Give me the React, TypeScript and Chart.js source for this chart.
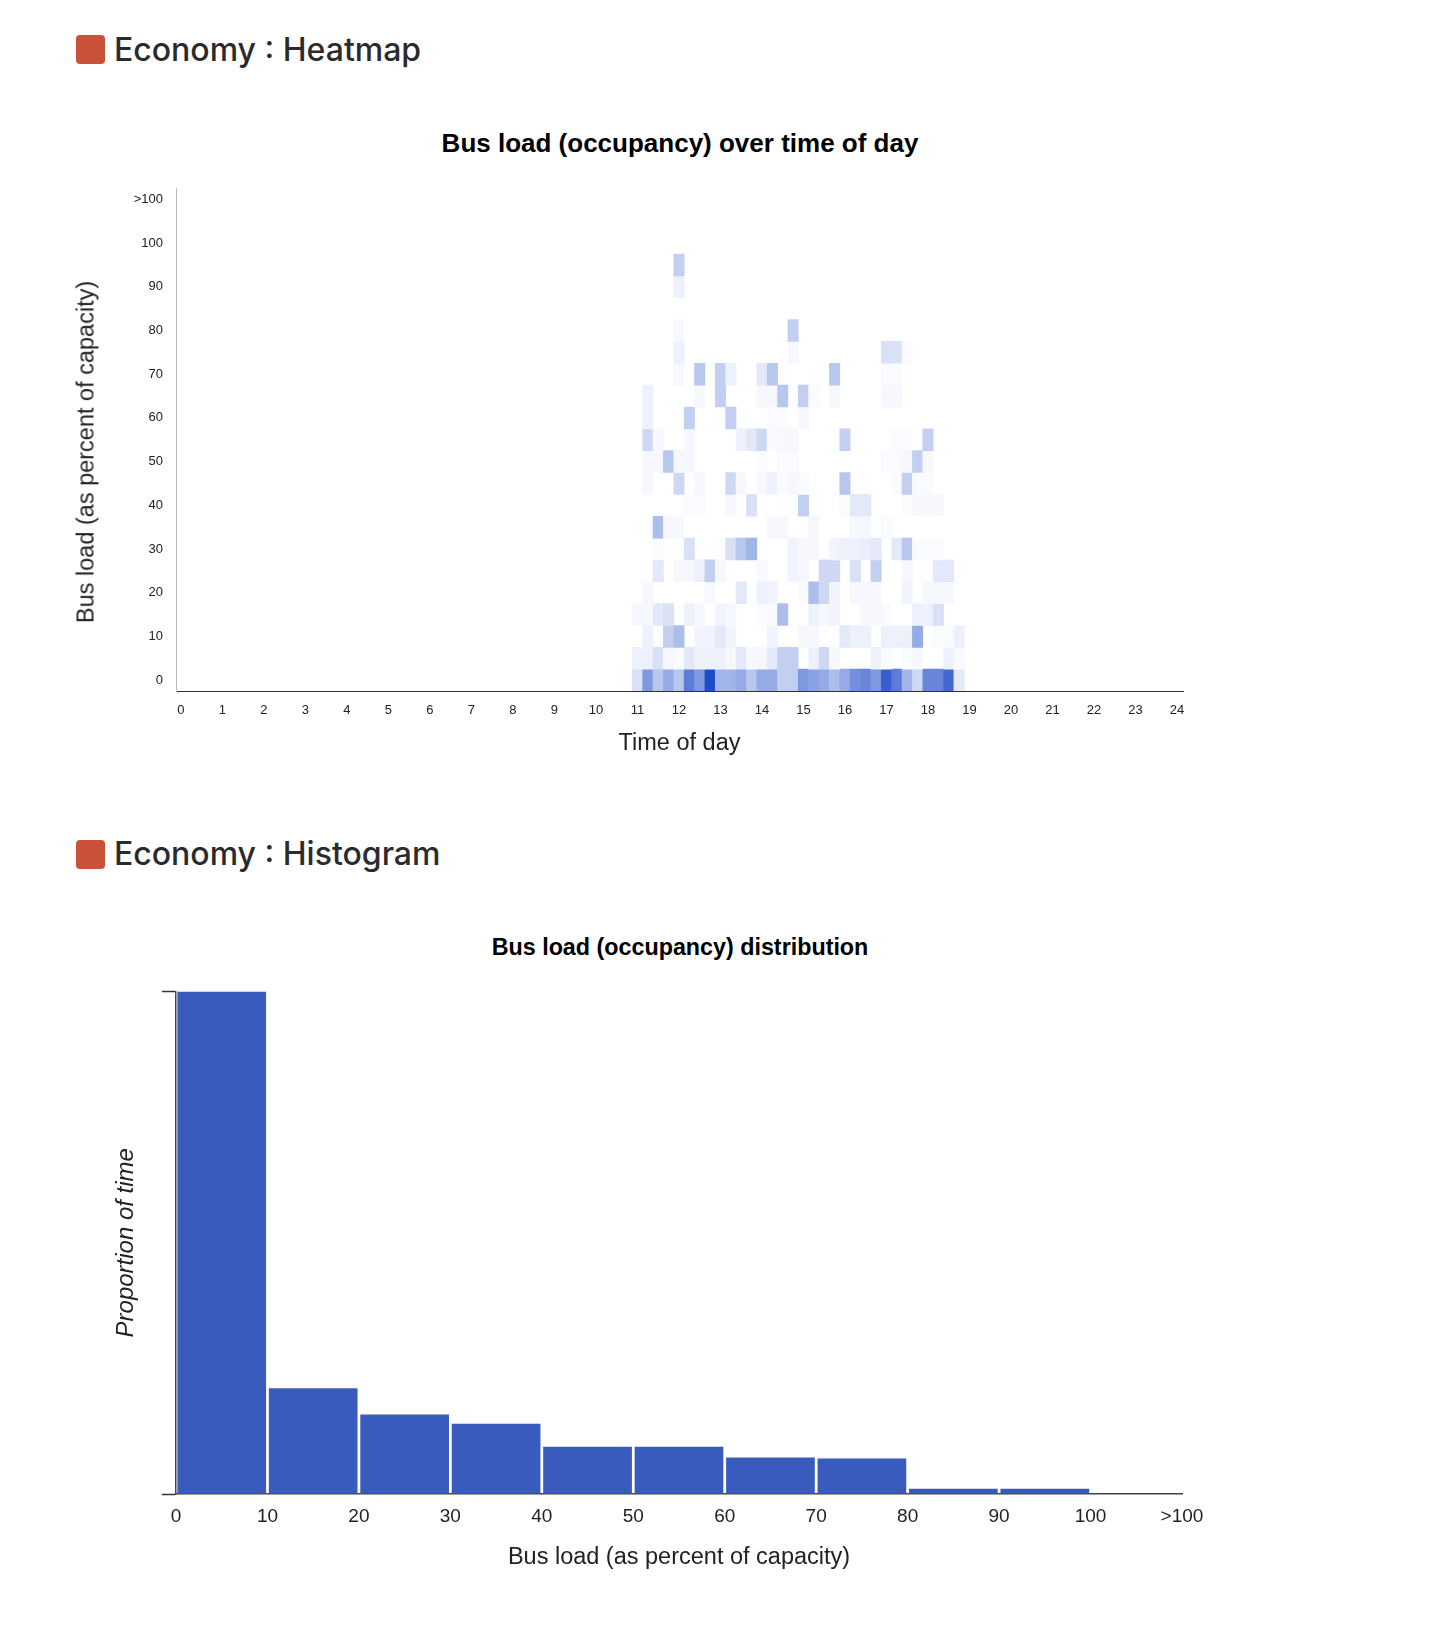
import React, { useEffect, useRef } from 'react';
import { Chart, registerables } from 'chart.js';

Chart.register(...registerables);

const FONT = '"Liberation Sans", Arial, Helvetica, sans-serif';
const HEAD_FONT = 'Inter, "Open Sans", sans-serif';

// ---------- Heatmap data ----------
const heatTitle = 'Bus load (occupancy) over time of day';
const hourTicks = [0, 1, 2, 3, 4, 5, 6, 7, 8, 9, 10, 11, 12, 13, 14, 15, 16, 17, 18, 19, 20, 21, 22, 23, 24];
const loadLabels = ['0', '10', '20', '30', '40', '50', '60', '70', '80', '90', '100', '>100'];
const loadBinWidth = 5;
const slotWidth = 0.25;
// centre time (hours) of each 15-minute slot
const slotCenters = [
  11, 11.25, 11.5, 11.75, 12, 12.25, 12.5, 12.75, 13, 13.25, 13.5, 13.75, 14, 14.25, 14.5, 14.75,
  15, 15.25, 15.5, 15.75, 16, 16.25, 16.5, 16.75, 17, 17.25, 17.5, 17.75, 18, 18.25, 18.5, 18.75,
];
// intensity (0-10) per load bin (rows, 0-5%, 5-10%, ...) and 15-minute slot (columns)
const heatRows: number[][] = [
  [2, 6, 3.5, 5, 3.5, 7.5, 6, 10, 4.5, 4.5, 5, 3.5, 5, 5, 3, 3, 6, 5.5, 5, 4, 5, 6.5, 7, 6, 9, 7.5, 4.5, 2.5, 7, 7, 8.5, 1.5],
  [1, 1, 2, 0.5, 0.3, 1.5, 1, 1, 1, 0.5, 1.5, 0.5, 0.5, 1.5, 3, 3, 0, 1, 2.5, 0.5, 0, 0, 0, 1, 0.3, 0, 0.3, 0.5, 0, 0, 1, 0.3],
  [0, 1, 0, 3, 4, 0, 0.8, 0.8, 1.5, 0.8, 0, 0, 0, 0.8, 0, 0, 0.5, 0.5, 0, 0, 1.5, 1, 1, 0, 1, 1, 1, 5, 0, 0.3, 0.3, 1],
  [0.5, 0.5, 1.5, 2, 0, 1, 0.5, 0, 0.8, 0.5, 0, 0, 0.3, 0.3, 4, 0, 0, 1, 0.5, 0.8, 0, 0, 0.5, 0.5, 0.3, 0, 0, 1, 1, 2, 0, 0],
  [0, 0.5, 0, 0, 0, 0, 0, 0.5, 0, 0, 1.5, 0, 1, 0.8, 0, 0, 0.3, 4, 2.5, 0.8, 0, 0.5, 0.5, 0.5, 0, 0, 0.8, 0, 0.5, 0.5, 0.5, 0],
  [0, 0, 1.5, 0, 0.5, 0.5, 1, 3, 0.5, 0, 0, 0, 0.5, 0, 0, 0.8, 0.5, 0, 2.5, 2.5, 0, 2, 0, 3, 0, 0, 0.5, 0, 0, 1.5, 1.5, 0],
  [0, 0, 0.3, 0, 0, 2, 0, 0, 0, 2, 3.5, 4.5, 0, 0, 0, 0.8, 0.5, 0.5, 0, 0.8, 1, 1, 1.2, 1.5, 0, 1.5, 3.5, 0.3, 0.3, 0.3, 0, 0],
  [0, 0, 4, 0.5, 0.5, 0, 0, 0, 0, 0, 0, 0, 0, 0.5, 0.5, 0, 0, 0.5, 0, 0, 0, 0.5, 0.5, 0, 0.3, 0, 0, 0, 0, 0, 0, 0],
  [0, 0, 0, 0, 0, 0.3, 0.3, 0, 0, 0.5, 0, 2, 0, 0, 0, 0, 3, 0, 0, 0, 0.3, 1.5, 1.5, 0, 0, 0, 0.3, 0.5, 0.5, 0.5, 0, 0],
  [0, 0.5, 0, 0, 2.5, 0, 0.5, 0, 0, 2.5, 0.5, 0, 0.5, 1, 0.3, 0.5, 0.3, 0, 0, 0, 3.5, 0, 0, 0, 0, 0.3, 3, 0.3, 0.3, 0, 0, 0],
  [0, 0.5, 0.5, 3.5, 0.5, 0.5, 0, 0, 0, 0, 0, 0, 0.3, 0, 0.3, 0.3, 0, 0, 0, 0, 0, 0, 0, 0, 0.3, 0.3, 0.5, 3, 0.5, 0, 0, 0],
  [0, 2.5, 0.5, 0, 0, 0.5, 0, 0, 0, 0, 1, 1.5, 2.5, 0.3, 0.5, 0.5, 0, 0, 0, 0, 3, 0, 0, 0, 0, 0.3, 0.3, 0, 3, 0, 0, 0],
  [0, 1, 0, 0, 0, 3, 0, 0, 0, 3, 0, 0, 0, 0.3, 0.3, 0, 0.5, 0, 0, 0, 0, 0, 0, 0, 0, 0, 0, 0, 0, 0, 0, 0],
  [0, 1, 0, 0, 0, 0, 0.5, 0, 3, 0, 0, 0, 0.5, 0.5, 3.5, 0, 3, 0.3, 0, 0.5, 0, 0, 0, 0, 0.5, 0.5, 0, 0, 0, 0, 0, 0],
  [0, 0, 0, 0, 0.5, 0, 3.5, 0, 3, 1, 0, 0, 1.5, 3.5, 0, 0, 0, 0, 0, 3.5, 0, 0, 0, 0, 0.3, 0.3, 0, 0, 0, 0, 0, 0],
  [0, 0, 0, 0, 1, 0, 0, 0, 0, 0, 0, 0, 0, 0, 0, 0.5, 0, 0, 0, 0, 0, 0, 0, 0, 2, 2, 0.3, 0, 0, 0, 0, 0],
  [0, 0, 0, 0, 0.5, 0, 0, 0, 0, 0, 0, 0, 0, 0, 0, 3, 0, 0, 0, 0, 0, 0, 0, 0, 0, 0, 0, 0, 0, 0, 0, 0],
  [0, 0, 0, 0, 0, 0, 0, 0, 0, 0, 0, 0, 0, 0, 0, 0, 0, 0, 0, 0, 0, 0, 0, 0, 0, 0, 0, 0, 0, 0, 0, 0],
  [0, 0, 0, 0, 1, 0, 0, 0, 0, 0, 0, 0, 0, 0, 0, 0, 0, 0, 0, 0, 0, 0, 0, 0, 0, 0, 0, 0, 0, 0, 0, 0],
  [0, 0, 0, 0, 3, 0, 0, 0, 0, 0, 0, 0, 0, 0, 0, 0, 0, 0, 0, 0, 0, 0, 0, 0, 0, 0, 0, 0, 0, 0, 0, 0],
];
const loadMax = 115;

// ---------- Histogram data ----------
const histTitle = 'Bus load (occupancy) distribution';
const histBinStarts = [0, 10, 20, 30, 40, 50, 60, 70, 80, 90, 100];
const histBinWidth = 10;
const histValues = [0.537, 0.113, 0.085, 0.075, 0.0505, 0.0505, 0.039, 0.038, 0.0056, 0.0056, 0];
const histTickValues = [0, 10, 20, 30, 40, 50, 60, 70, 80, 90, 100, 110];
const histTickLabels = ['0', '10', '20', '30', '40', '50', '60', '70', '80', '90', '100', '>100'];

const DARK = [30, 76, 200];
function heatColor(v: number): string {
  const t = Math.pow(Math.max(0, Math.min(1, v / 10)), 1.1);
  const c = DARK.map((d) => Math.round(255 + (d - 255) * t));
  return `rgb(${c[0]},${c[1]},${c[2]})`;
}

function heatConfig(): any {
  const cells: any[] = [];
  heatRows.forEach((row, r) => {
    row.forEach((v, k) => {
      if (v > 0) {
        cells.push({
          x: slotCenters[k],
          y: [r * loadBinWidth, (r + 1) * loadBinWidth],
          v,
        });
      }
    });
  });
  return {
    type: 'bar',
    data: {
      datasets: [
        {
          data: cells,
          backgroundColor: (ctx: any) => heatColor(ctx.raw ? ctx.raw.v : 0),
          borderWidth: 0,
          barPercentage: 1,
          categoryPercentage: 1,
        },
      ],
    },
    options: {
      animation: false,
      responsive: false,
      maintainAspectRatio: false,
      events: [],
      layout: { padding: { left: 0, right: 251, top: 78.5, bottom: 0 } },
      plugins: {
        legend: { display: false },
        tooltip: { enabled: false },
        title: { display: false },
      },
      scales: {
        x: {
          type: 'linear',
          offset: false,
          min: -0.12,
          max: 24.145,
          afterBuildTicks: (s: any) => {
            s.ticks = hourTicks.map((v) => ({ value: v }));
          },
          afterFit: (s: any) => {
            s.height = 99;
          },
          ticks: {
            autoSkip: false,
            maxRotation: 0,
            padding: 12,
            color: '#222',
            font: { family: FONT, size: 13 },
            callback: (v: any) => String(v),
          },
          grid: { display: false, drawTicks: false, offset: false },
          border: { display: true, color: '#333', width: 1 },
          title: {
            display: true,
            text: 'Time of day',
            color: '#222',
            font: { family: FONT, size: 23.5 },
            padding: { top: 0, bottom: 32 },
          },
        },
        y: {
          type: 'linear',
          min: 0,
          max: loadMax,
          afterBuildTicks: (s: any) => {
            s.ticks = loadLabels.map((_, i) => ({ value: i * 10 + loadBinWidth / 2 }));
          },
          afterFit: (s: any) => {
            s.width = 176;
          },
          ticks: {
            autoSkip: false,
            padding: 13,
            color: '#222',
            font: { family: FONT, size: 13 },
            callback: (_v: any, i: number) => loadLabels[i],
          },
          grid: { display: false, drawTicks: false },
          border: { display: true, color: '#bbb', width: 1 },
        },
      },
    },
  };
}

function histConfig(): any {
  const maxV = Math.max(...histValues);
  return {
    type: 'bar',
    data: {
      datasets: [
        {
          data: histValues.map((v, i) => ({ x: histBinStarts[i] + histBinWidth / 2, y: v })),
          backgroundColor: '#3a5bbe',
          borderWidth: 0,
          barPercentage: 0.97,
          categoryPercentage: 1,
        },
      ],
    },
    options: {
      animation: false,
      responsive: false,
      maintainAspectRatio: false,
      events: [],
      layout: { padding: { left: 0, right: 252, top: 71.5, bottom: 0 } },
      plugins: {
        legend: { display: false },
        tooltip: { enabled: false },
        title: { display: false },
      },
      scales: {
        x: {
          type: 'linear',
          offset: false,
          min: 0,
          max: 110,
          afterBuildTicks: (s: any) => {
            s.ticks = histTickValues.map((v) => ({ value: v }));
          },
          afterFit: (s: any) => {
            s.height = 106;
          },
          ticks: {
            autoSkip: false,
            maxRotation: 0,
            padding: 11,
            color: '#222',
            font: { family: FONT, size: 19 },
            callback: (_v: any, i: number) => histTickLabels[i],
          },
          grid: { display: false, drawTicks: false, offset: false },
          border: { display: true, color: '#444', width: 1.5 },
          title: {
            display: true,
            text: 'Bus load (as percent of capacity)',
            color: '#222',
            font: { family: FONT, size: 23.5 },
            padding: { top: 0, bottom: 28 },
          },
        },
        y: {
          type: 'linear',
          min: 0,
          max: maxV,
          afterBuildTicks: (s: any) => {
            s.ticks = [{ value: 0 }, { value: maxV }];
          },
          afterFit: (s: any) => {
            s.width = 176;
          },
          ticks: { display: false },
          grid: {
            display: true,
            drawOnChartArea: false,
            drawTicks: true,
            tickLength: 14,
            tickColor: '#333',
            tickWidth: 1.5,
          },
          border: { display: true, color: '#444', width: 1.5 },
          title: {
            display: true,
            text: 'Proportion of time',
            color: '#222',
            font: { family: FONT, size: 24, style: 'italic' },
            padding: { top: 112, bottom: 0 },
          },
        },
      },
    },
  };
}

function Heading({ top, text }: { top: number; text: string }) {
  return (
    <div
      style={{
        position: 'absolute',
        left: 76,
        top,
        height: 30,
        display: 'flex',
        alignItems: 'center',
        whiteSpace: 'nowrap',
      }}
    >
      <div style={{ width: 29, height: 29, borderRadius: 4, background: '#c9513a' }} />
      <div
        style={{
          marginLeft: 9,
          fontFamily: HEAD_FONT,
          fontSize: 32,
          fontWeight: 500,
          color: '#2b2b2e',
          lineHeight: '30px',
        }}
      >
        {text}
      </div>
    </div>
  );
}

function ChartTitle({ top, text, size }: { top: number; text: string; size: number }) {
  return (
    <div
      style={{
        position: 'absolute',
        left: 680,
        top,
        transform: 'translate(-50%, -50%)',
        whiteSpace: 'nowrap',
        fontFamily: FONT,
        fontSize: size,
        fontWeight: 'bold',
        color: '#000',
      }}
    >
      {text}
    </div>
  );
}

export default function App() {
  const heatRef = useRef<HTMLCanvasElement>(null);
  const histRef = useRef<HTMLCanvasElement>(null);

  useEffect(() => {
    const c1 = new Chart(heatRef.current as HTMLCanvasElement, heatConfig());
    const c2 = new Chart(histRef.current as HTMLCanvasElement, histConfig());
    return () => {
      c1.destroy();
      c2.destroy();
    };
  }, []);

  return (
    <div style={{ position: 'absolute', left: 0, top: 0, width: 1434, height: 1642, background: '#fff' }}>
      <Heading top={34.5} text="Economy : Heatmap" />
      <ChartTitle top={142.5} text={heatTitle} size={26} />
      <canvas
        ref={heatRef}
        width={1434}
        height={680}
        style={{ position: 'absolute', left: 0, top: 110, width: 1434, height: 680 }}
      />
      <div
        style={{
          position: 'absolute',
          left: 86,
          top: 452,
          transform: 'translate(-50%, -50%) rotate(-90deg)',
          whiteSpace: 'nowrap',
          fontFamily: FONT,
          fontSize: 23.5,
          color: '#222',
        }}
      >
        Bus load (as percent of capacity)
      </div>
      <Heading top={839} text="Economy : Histogram" />
      <ChartTitle top={946.5} text={histTitle} size={23.3} />
      <canvas
        ref={histRef}
        width={1434}
        height={680}
        style={{ position: 'absolute', left: 0, top: 920, width: 1434, height: 680 }}
      />
    </div>
  );
}
